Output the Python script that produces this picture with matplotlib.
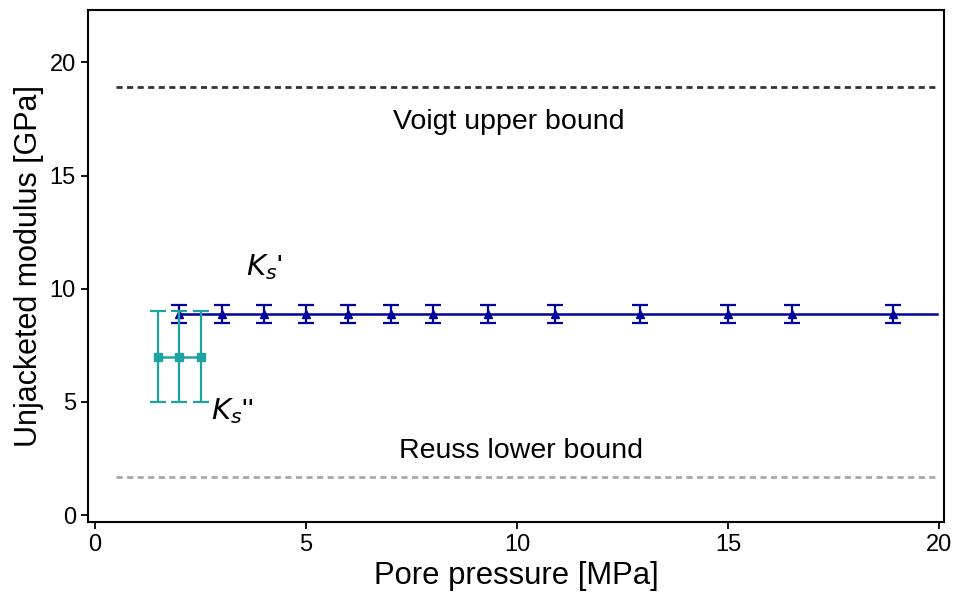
import matplotlib.pyplot as plt
import numpy as np

# --- data ---
ks1_p = [2, 3, 4, 5, 6, 7, 8, 9.3, 10.9, 12.9, 15, 16.5, 18.9]
ks1_k = [8.9] * 13
ks1_err = [0.4] * 13

ks2_p = [1.5, 2.0, 2.5]
ks2_k = [7.0, 7.0, 7.0]
ks2_err = [2.0, 2.0, 2.0]

voigt = 18.9
reuss = 1.7
bound_x = [0.5, 19.95]

plt.rcParams['font.family'] = ['Liberation Sans', 'DejaVu Sans']

fig = plt.figure(figsize=(9.54, 6), dpi=100)
ax = fig.add_axes([0.092, 0.13, 0.898, 0.853])

navy = '#00009c'
teal = '#1fa3a0'

ax.plot(bound_x, [voigt, voigt], color='#333333', ls=(0, (2.2, 1.6)), lw=2)
ax.plot(bound_x, [reuss, reuss], color='#a8a8a8', ls=(0, (2.2, 1.6)), lw=2)

# Ks' line runs to the right edge
ax.plot([ks1_p[0], 19.95], [ks1_k[0], ks1_k[0]], color=navy, lw=1.8, zorder=3)
ax.errorbar(ks1_p, ks1_k, yerr=ks1_err, fmt='^', color=navy, ms=6,
            capsize=5.5, elinewidth=1.6, capthick=1.6, zorder=4)

ax.errorbar(ks2_p, ks2_k, yerr=ks2_err, fmt='s-', color=teal, ms=6,
            capsize=5.5, elinewidth=1.6, capthick=1.6, lw=1.8, zorder=5)

ax.text(9.8, 17.35, 'Voigt upper bound', fontsize=20.5, ha='center', va='center')
ax.text(10.1, 2.85, 'Reuss lower bound', fontsize=20.5, ha='center', va='center')
ax.text(4.0, 10.95, "$K_s$'", fontsize=21, ha='center', va='center')
ax.text(3.25, 4.6, "$K_s$''", fontsize=21, ha='center', va='center')

ax.set_xlim(-0.17, 20.12)
ax.set_ylim(-0.3, 22.3)
ax.set_xticks([0, 5, 10, 15, 20])
ax.set_yticks([0, 5, 10, 15, 20])
ax.tick_params(direction='out', length=5, width=1.3, labelsize=17)
for s in ax.spines.values():
    s.set_linewidth(1.5)

ax.set_xlabel('Pore pressure [MPa]', fontsize=22.3)
ax.set_ylabel('Unjacketed modulus [GPa]', fontsize=22)

fig.savefig('out.png', dpi=100)
